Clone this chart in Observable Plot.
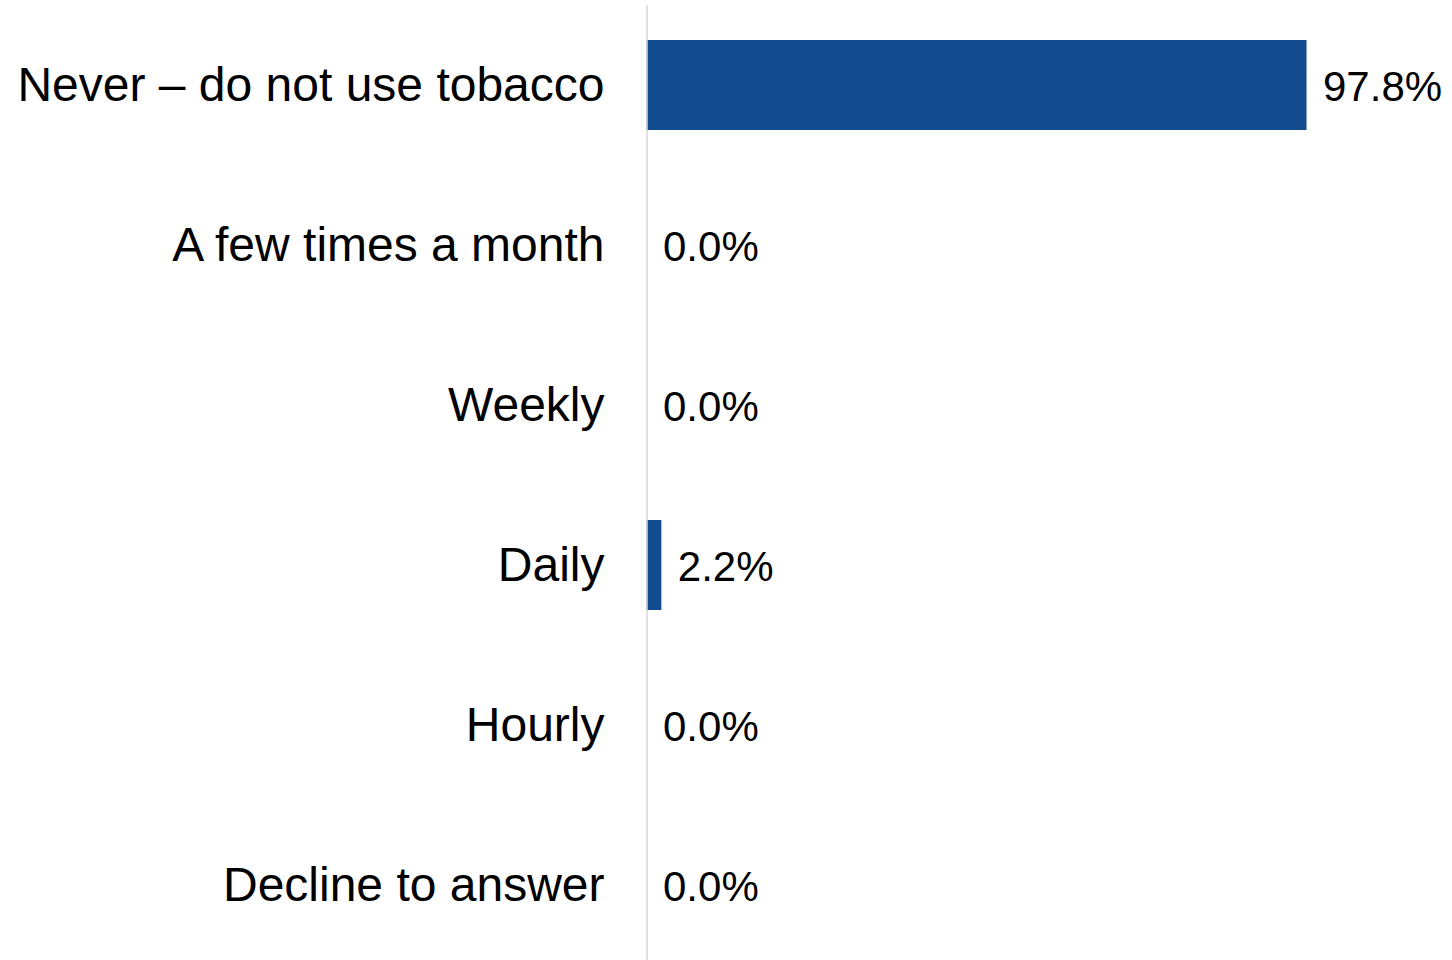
<!DOCTYPE html>
<html>
<head>
<meta charset="utf-8">
<script src="https://cdn.jsdelivr.net/npm/d3@7"></script>
<script src="https://cdn.jsdelivr.net/npm/@observablehq/plot@0.6"></script>
<style>
  html, body { margin: 0; padding: 0; background: #fff; }
  #chart svg { display: block; font-family: "Liberation Sans", Arial, sans-serif; }
</style>
</head>
<body>
<div id="chart"></div>
<script>
const categories = [
  "Never – do not use tobacco",
  "A few times a month",
  "Weekly",
  "Daily",
  "Hourly",
  "Decline to answer"
];
const values = [97.8, 0.0, 0.0, 2.2, 0.0, 0.0];

const data = categories.map((c, i) => ({category: c, value: values[i]}));
const fmt = d => d3.format(".1f")(d) + "%";

const chart = Plot.plot({
  width: 1452,
  height: 960,
  marginLeft: 647,
  marginRight: 0,
  marginTop: 5,
  marginBottom: 0,
  style: {fontFamily: "'Liberation Sans', Arial, sans-serif", background: "#fff"},
  x: {domain: [0, 100], range: [646.5, 1321.35], axis: null},
  y: {domain: categories, range: [4.5, 964.5], paddingInner: 0.44, paddingOuter: 0.22, label: null},
  marks: [
    Plot.barX(data, {y: "category", x: "value", fill: "#134c8e"}),
    Plot.ruleX([0], {stroke: "#d9d9d9", strokeWidth: 1.5}),
    Plot.text(data, {
      y: "category", x: "value", text: d => fmt(d.value),
      textAnchor: "start", dx: 16, dy: 2, fontSize: 42, fill: "#000"
    }),
    Plot.axisY({tickSize: 0, tickPadding: 43, fontSize: 48, label: null, color: "#000"})
  ]
});

document.getElementById("chart").appendChild(chart);
</script>
</body>
</html>
